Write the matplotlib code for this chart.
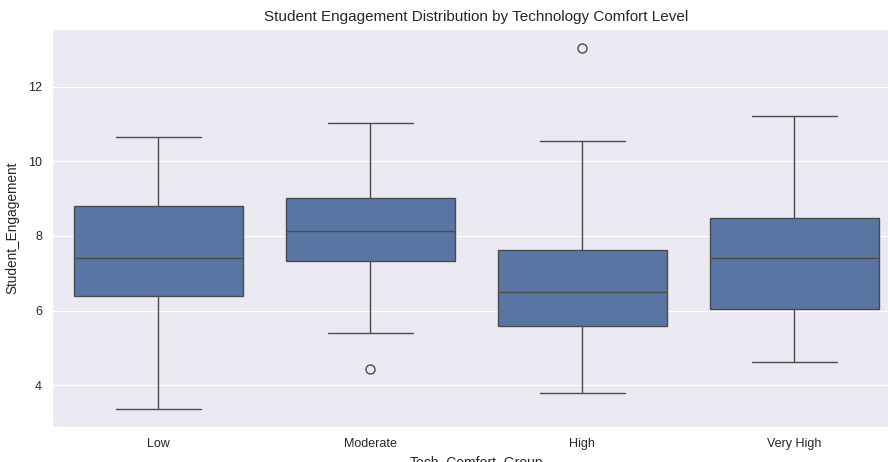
import matplotlib
matplotlib.use("Agg")
import matplotlib.pyplot as plt
import seaborn as sns

# Summary statistics of Student_Engagement per technology comfort group
groups = ["Low", "Moderate", "High", "Very High"]
whisker_low = [3.37, 5.39, 3.79, 4.62]
q1 = [6.40, 7.34, 5.58, 6.04]
median = [7.40, 8.13, 6.50, 7.40]
q3 = [8.79, 9.02, 7.63, 8.47]
whisker_high = [10.66, 11.03, 10.53, 11.21]
outliers = [[], [4.43], [13.04], []]

sns.set_theme(style="darkgrid", context="paper")
plt.rcParams["font.family"] = ["Liberation Sans", "DejaVu Sans"]

box_color = "#5975a4"
line_color = (0.296, 0.296, 0.296)

fig = plt.figure(figsize=(8.88, 4.62), dpi=100)
ax = fig.add_axes([0.0589, 0.0764, 0.955, 0.860])

stats = []
for i, g in enumerate(groups):
    stats.append({
        "label": g,
        "whislo": whisker_low[i],
        "q1": q1[i],
        "med": median[i],
        "q3": q3[i],
        "whishi": whisker_high[i],
        "fliers": outliers[i],
    })

line_kw = dict(color=line_color, linewidth=1.0)
ax.bxp(
    stats,
    positions=range(len(groups)),
    widths=0.8,
    capwidths=0.4,
    patch_artist=True,
    boxprops=dict(facecolor=box_color, edgecolor=line_color, linewidth=1.0),
    medianprops=line_kw,
    whiskerprops=line_kw,
    capprops=line_kw,
    flierprops=dict(marker="o", markersize=6.5, markerfacecolor="none",
                    markeredgecolor=line_color, markeredgewidth=1.0),
)

ax.set_xlim(-0.5, len(groups) - 0.5)
ax.set_ylim(2.89, 13.53)
ax.set_yticks([4, 6, 8, 10, 12])
ax.set_xticks(range(len(groups)))
ax.set_xticklabels(groups)
ax.xaxis.grid(False)
ax.tick_params(axis="y", pad=2.5, labelsize=9)
ax.tick_params(axis="x", labelsize=9)
ax.set_title("Student Engagement Distribution by Technology Comfort Level",
             fontsize=11, pad=6)
ax.set_xlabel("Tech_Comfort_Group", fontsize=10)
ax.set_ylabel("Student_Engagement", fontsize=9.8, labelpad=6)

fig.savefig("out.png", dpi=100)
